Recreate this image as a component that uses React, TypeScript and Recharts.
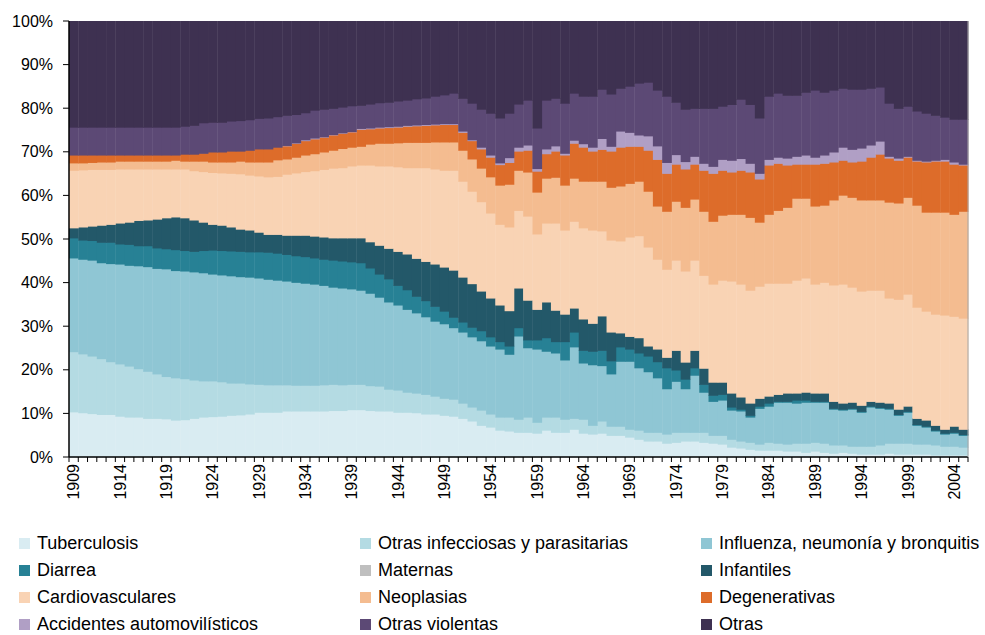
import React from 'react';
import { BarChart, Bar, XAxis, YAxis } from 'recharts';

const years = [
  1909, 1910, 1911, 1912, 1913, 1914, 1915, 1916, 1917, 1918, 1919, 1920, 1921, 1922,
  1923, 1924, 1925, 1926, 1927, 1928, 1929, 1930, 1931, 1932, 1933, 1934, 1935,
  1936, 1937, 1938, 1939, 1940, 1941, 1942, 1943, 1944, 1945, 1946, 1947, 1948, 1949,
  1950, 1951, 1952, 1953, 1954, 1955, 1956, 1957, 1958, 1959, 1960, 1961, 1962,
  1963, 1964, 1965, 1966, 1967, 1968, 1969, 1970, 1971, 1972, 1973, 1974, 1975, 1976,
  1977, 1978, 1979, 1980, 1981, 1982, 1983, 1984, 1985, 1986, 1987, 1988, 1989,
  1990, 1991, 1992, 1993, 1994, 1995, 1996, 1997, 1998, 1999, 2000, 2001, 2002, 2003, 2004, 2005,
];

// porcentajes por año (se leen del gráfico)
const tuberculosis = [
  10.4, 10.2, 10.0, 9.8, 9.8, 9.4, 9.2, 9.2, 8.9, 8.9, 8.8, 8.5, 8.6, 8.9,
  9.2, 9.3, 9.4, 9.6, 9.7, 9.9, 10.3, 10.3, 10.3, 10.6, 10.6, 10.6, 10.6,
  10.6, 10.7, 10.7, 10.9, 10.9, 10.7, 10.6, 10.6, 10.3, 10.3, 10.2, 9.9, 9.9, 9.6,
  9.4, 8.9, 8.3, 7.3, 6.9, 6.2, 6.0, 5.7, 5.7, 5.5, 6.2, 5.7, 5.7,
  6.4, 5.5, 5.3, 5.5, 5.0, 5.0, 4.6, 4.1, 3.7, 3.7, 3.2, 3.4, 3.7, 3.7,
  3.4, 3.2, 3.0, 2.3, 2.1, 1.8, 1.6, 1.6, 1.6, 1.4, 1.4, 1.1, 1.4,
  1.1, 0.9, 1.1, 0.9, 0.7, 0.7, 0.7, 0.9, 0.7, 0.7, 0.7, 0.7, 0.5, 0.5, 0.5, 0.5,
];
const otrasInfecciosas = [
  13.8, 13.5, 13.2, 12.8, 12.1, 12.0, 11.7, 11.1, 10.8, 10.2, 9.7, 9.7, 9.4, 8.8,
  8.3, 8.2, 7.9, 7.4, 7.3, 6.9, 6.4, 6.3, 6.3, 6.0, 5.9, 5.9, 5.9,
  6.0, 6.0, 5.9, 5.8, 5.8, 5.7, 5.7, 5.0, 5.1, 4.6, 4.5, 4.5, 4.1, 3.9,
  3.9, 3.5, 3.2, 3.5, 3.0, 3.0, 3.2, 3.0, 3.5, 2.5, 3.0, 3.5, 3.0,
  2.5, 3.2, 2.0, 2.8, 2.1, 2.1, 1.8, 2.1, 2.0, 2.0, 2.1, 2.3, 2.0, 2.0,
  2.3, 1.8, 2.0, 1.8, 1.6, 1.6, 1.4, 1.8, 1.6, 1.6, 1.8, 2.1, 2.0,
  2.1, 1.9, 1.7, 1.6, 1.8, 1.8, 2.1, 2.3, 2.5, 2.5, 2.3, 2.3, 2.3, 2.0, 2.0, 1.8,
];
const influenza = [
  21.5, 21.7, 22.0, 22.0, 22.5, 22.9, 23.1, 23.6, 24.0, 24.2, 24.7, 24.6, 24.7, 24.8,
  24.8, 24.5, 24.5, 24.6, 24.4, 24.5, 24.4, 24.2, 24.0, 23.8, 23.6, 23.4, 23.2,
  22.8, 22.3, 22.2, 21.9, 21.6, 21.2, 20.4, 20.0, 19.5, 19.0, 18.4, 17.8, 17.2, 17.1,
  16.4, 16.3, 16.1, 15.9, 15.6, 15.6, 14.4, 19.1, 15.9, 16.8, 15.1, 14.7, 13.6,
  16.4, 12.9, 13.9, 12.7, 12.0, 14.9, 15.6, 14.3, 13.9, 12.5, 10.4, 11.7, 10.0, 13.1,
  9.2, 7.8, 8.1, 6.7, 6.9, 5.8, 8.2, 8.3, 9.4, 9.6, 9.2, 9.4, 9.2,
  9.4, 8.2, 8.0, 8.5, 7.8, 9.0, 8.4, 7.8, 6.4, 7.1, 4.3, 3.9, 3.2, 2.8, 3.0, 2.7,
];
const diarrea = [
  4.6, 4.4, 4.5, 4.7, 4.9, 4.6, 4.8, 4.6, 4.8, 4.7, 4.6, 4.8, 4.7, 4.7,
  5.1, 5.5, 5.6, 5.7, 5.8, 5.8, 6.0, 6.2, 6.2, 6.1, 6.1, 6.1, 6.0,
  6.0, 6.2, 6.2, 6.2, 6.3, 5.8, 5.3, 5.3, 4.5, 4.5, 3.8, 3.7, 3.4, 2.9,
  2.4, 2.3, 2.2, 2.3, 2.1, 1.7, 1.9, 1.9, 1.8, 2.1, 3.1, 2.6, 4.2,
  3.4, 2.9, 3.1, 3.5, 3.0, 3.3, 2.8, 3.4, 3.6, 3.7, 4.8, 2.6, 2.2, 1.7,
  1.8, 1.4, 1.3, 0.7, 0.4, 0.4, 0.5, 0.7, 0.2, 0.2, 0.7, 0.5, 0.2,
  0.2, 0.2, 0.2, 0.2, 0.2, 0.2, 0.2, 0.2, 0.2, 0.2, 0.2, 0.2, 0.2, 0.2, 0.2, 0.2,
];
const maternas = [
  0, 0, 0, 0, 0, 0, 0, 0, 0, 0, 0, 0, 0, 0,
  0, 0, 0, 0, 0, 0, 0, 0, 0, 0, 0, 0, 0,
  0, 0, 0, 0, 0, 0, 0, 0, 0, 0, 0, 0, 0, 0,
  0, 0, 0, 0, 0, 0, 0, 0, 0, 0, 0, 0, 0,
  0, 0, 0, 0, 0, 0, 0, 0, 0, 0, 0, 0, 0, 0,
  0, 0, 0, 0, 0, 0, 0, 0, 0, 0, 0, 0, 0,
  0, 0, 0, 0, 0, 0, 0, 0, 0, 0, 0, 0, 0, 0, 0, 0,
];
const infantiles = [
  2.3, 3.0, 3.3, 3.9, 4.1, 4.8, 5.1, 5.8, 5.9, 6.6, 7.1, 7.5, 7.5, 7.2,
  6.5, 5.9, 5.8, 5.5, 5.1, 5.0, 4.5, 4.1, 4.3, 4.4, 4.7, 4.9, 5.0,
  5.1, 5.1, 5.3, 5.5, 5.7, 6.0, 6.6, 7.0, 7.8, 8.2, 8.7, 9.0, 9.7, 10.1,
  10.8, 10.3, 10.0, 9.1, 8.9, 8.4, 8.1, 9.1, 9.1, 7.0, 8.2, 7.2, 6.3,
  5.5, 7.2, 6.4, 7.9, 6.6, 3.2, 2.9, 3.5, 2.3, 2.9, 2.4, 4.5, 3.9, 4.0,
  3.7, 3.0, 2.8, 3.2, 2.8, 2.8, 1.8, 1.6, 1.6, 1.9, 1.6, 1.8, 1.9,
  1.9, 1.6, 1.4, 1.4, 1.4, 1.1, 1.2, 1.2, 1.2, 1.2, 1.4, 1.4, 1.1, 0.9, 1.4, 1.2,
];
const cardiovasculares = [
  13.2, 13.1, 13.0, 12.8, 12.6, 12.4, 12.2, 11.8, 11.7, 11.5, 11.2, 11.0, 11.2, 11.3,
  11.6, 11.9, 12.0, 12.3, 12.7, 12.6, 12.9, 13.2, 13.3, 14.0, 14.3, 14.6, 15.0,
  15.5, 16.0, 16.1, 16.5, 16.7, 17.6, 18.2, 18.9, 19.4, 19.8, 20.8, 21.5, 21.8, 22.2,
  22.9, 22.0, 21.2, 20.5, 19.5, 18.5, 19.2, 17.8, 19.3, 17.3, 18.1, 20.0, 19.3,
  19.9, 20.9, 21.4, 19.5, 21.1, 21.1, 22.8, 23.4, 22.7, 20.6, 20.2, 20.7, 20.9, 20.7,
  21.3, 22.5, 23.4, 25.7, 25.9, 25.9, 25.7, 25.9, 25.5, 25.2, 25.9, 26.2, 25.0,
  25.4, 26.7, 27.3, 26.4, 26.2, 25.5, 25.7, 24.1, 25.2, 25.7, 25.5, 25.0, 25.5, 26.2, 25.2, 25.5,
];
const neoplasias = [
  1.7, 1.6, 1.6, 1.7, 1.7, 1.8, 1.8, 1.8, 1.8, 1.8, 1.8, 2.0, 1.8, 2.2,
  2.4, 2.4, 2.5, 2.6, 2.9, 3.0, 3.2, 3.4, 3.8, 3.5, 3.6, 3.8, 3.9,
  4.0, 4.1, 4.4, 4.3, 4.3, 4.8, 5.2, 5.2, 5.5, 5.8, 5.8, 5.8, 6.2, 6.5,
  6.5, 7.1, 7.4, 7.7, 8.3, 9.0, 9.8, 9.2, 10.1, 9.6, 10.3, 10.5, 10.3,
  9.9, 10.7, 11.2, 11.4, 12.1, 12.6, 12.3, 12.5, 12.8, 12.2, 13.3, 13.5, 14.6, 14.0,
  14.7, 14.4, 14.9, 15.3, 16.0, 16.7, 14.7, 15.8, 16.7, 17.4, 18.8, 18.3, 17.9,
  17.7, 19.5, 20.4, 20.6, 20.9, 20.7, 20.7, 22.0, 22.1, 22.2, 23.4, 22.7, 23.4, 23.6, 23.4, 24.5,
];
const degenerativas = [
  1.8, 1.8, 1.7, 1.6, 1.6, 1.4, 1.4, 1.4, 1.4, 1.4, 1.4, 1.2, 1.6, 1.6,
  1.8, 2.3, 2.3, 2.5, 2.3, 2.7, 3.0, 3.0, 2.9, 3.0, 3.2, 3.3, 3.4,
  3.4, 3.5, 3.5, 3.5, 3.9, 3.5, 3.5, 3.6, 3.6, 3.7, 3.8, 3.9, 3.9, 4.0,
  4.0, 4.1, 4.2, 4.4, 4.5, 4.7, 5.0, 4.4, 5.0, 4.8, 5.6, 6.0, 6.9,
  8.0, 7.8, 6.9, 7.3, 8.3, 8.9, 8.5, 8.0, 9.4, 10.7, 8.7, 8.5, 8.8, 8.0,
  9.4, 11.0, 10.3, 9.7, 10.1, 10.4, 9.9, 11.3, 10.8, 9.7, 7.8, 7.8, 9.6,
  9.6, 8.7, 8.0, 8.1, 8.9, 9.8, 10.5, 10.1, 9.8, 9.2, 10.1, 11.5, 11.7, 11.7, 11.5, 10.6,
];
const accidentes = [
  0, 0, 0, 0, 0, 0, 0, 0, 0, 0, 0, 0, 0, 0,
  0, 0, 0, 0, 0, 0, 0, 0, 0, 0.1, 0.1, 0.2, 0.2,
  0.1, 0.1, 0.1, 0.1, 0.2, 0.2, 0.2, 0.2, 0.2, 0.2, 0.2, 0.2, 0.2, 0.2,
  0.2, 0.3, 0.2, 0.4, 0.5, 0.4, 1.1, 0.9, 1.2, 0.6, 1.1, 1.2, 0.4,
  0.7, 0.8, 0.9, 2.5, 1.1, 3.7, 3.2, 2.6, 3.3, 3.1, 2.5, 2.2, 1.7, 1.8,
  1.6, 1.6, 2.5, 2.7, 2.7, 2.0, 1.3, 1.3, 1.4, 1.6, 1.8, 2.1, 1.6,
  1.9, 2.3, 3.0, 2.9, 3.0, 2.8, 3.0, 0.4, 0.5, 0.2, 0.2, 0.2, 0.2, 0.4, 0.5, 0.2,
];
const otrasViolentas = [
  6.4, 6.4, 6.4, 6.4, 6.4, 6.4, 6.4, 6.4, 6.4, 6.4, 6.4, 6.4, 6.4, 6.6,
  7.0, 6.8, 6.8, 6.9, 7.0, 7.0, 7.0, 7.1, 7.0, 6.9, 6.5, 6.2, 6.4,
  6.3, 6.0, 5.9, 5.9, 5.3, 5.5, 5.6, 5.6, 5.8, 5.8, 6.0, 6.1, 6.4, 6.6,
  7.0, 7.5, 8.4, 8.7, 9.6, 10.3, 10.2, 9.9, 10.3, 9.3, 11.2, 10.9, 11.5,
  10.8, 10.9, 11.7, 11.3, 12.0, 9.8, 10.6, 11.9, 12.3, 12.8, 15.2, 12.0, 12.0, 11.0,
  12.6, 13.3, 12.2, 12.8, 13.6, 13.5, 12.7, 14.5, 14.7, 14.4, 14.0, 14.4, 15.4,
  14.4, 14.2, 13.5, 13.8, 13.5, 13.0, 12.4, 12.2, 11.4, 11.5, 11.3, 11.0, 10.3, 9.7, 9.8, 10.3,
];
const otras = [
  24.3, 24.3, 24.3, 24.3, 24.3, 24.3, 24.3, 24.3, 24.3, 24.3, 24.3, 24.3, 24.1, 23.9,
  23.3, 23.2, 23.2, 22.9, 22.8, 22.6, 22.3, 22.2, 21.9, 21.6, 21.4, 21.0, 20.4,
  20.2, 20.0, 19.7, 19.4, 19.3, 19.0, 18.7, 18.6, 18.3, 18.1, 17.8, 17.6, 17.2, 16.9,
  16.5, 17.7, 18.8, 20.2, 21.1, 22.2, 21.1, 19.0, 18.1, 24.5, 18.1, 17.7, 18.8,
  16.5, 17.2, 17.2, 15.6, 16.7, 15.4, 14.9, 14.2, 14.0, 15.8, 17.2, 18.6, 20.2, 20.0,
  20.0, 20.0, 19.5, 19.1, 17.9, 19.1, 22.2, 17.2, 16.5, 17.0, 17.0, 16.3, 15.8,
  16.3, 15.8, 15.4, 15.6, 15.6, 15.4, 15.1, 18.8, 20.0, 19.5, 20.6, 21.1, 21.6, 22.0, 22.5, 22.5,
];

const yTicks = [0, 0.1, 0.2, 0.3, 0.4, 0.5, 0.6, 0.7, 0.8, 0.9, 1];

const series = [
  { key: 'tuberculosis', name: 'Tuberculosis', color: '#d9ecf2', values: tuberculosis },
  { key: 'otrasInfecciosas', name: 'Otras infecciosas y parasitarias', color: '#b4dbe3', values: otrasInfecciosas },
  { key: 'influenza', name: 'Influenza, neumonía y bronquitis', color: '#8fc6d4', values: influenza },
  { key: 'diarrea', name: 'Diarrea', color: '#278195', values: diarrea },
  { key: 'maternas', name: 'Maternas', color: '#bfbfbf', values: maternas },
  { key: 'infantiles', name: 'Infantiles', color: '#235869', values: infantiles },
  { key: 'cardiovasculares', name: 'Cardiovasculares', color: '#f9d3b4', values: cardiovasculares },
  { key: 'neoplasias', name: 'Neoplasias', color: '#f4bc90', values: neoplasias },
  { key: 'degenerativas', name: 'Degenerativas', color: '#dd6c2a', values: degenerativas },
  { key: 'accidentes', name: 'Accidentes automovilísticos', color: '#b09fc5', values: accidentes },
  { key: 'otrasViolentas', name: 'Otras violentas', color: '#5c4975', values: otrasViolentas },
  { key: 'otras', name: 'Otras', color: '#3e3151', values: otras },
];

const data = years.map((year, i) => {
  const row: Record<string, number> = { year };
  series.forEach(s => { row[s.key] = s.values[i]; });
  return row;
});

const FONT = '"Liberation Sans", Arial, sans-serif';
const CHART_W = 985;
const CHART_H = 520;
const PLOT_LEFT = 69;
const PLOT_RIGHT = 968;
const BAND = (PLOT_RIGHT - PLOT_LEFT) / years.length;

// bars slightly overlap their neighbours so no hairline gaps show
const StepRect = (props: any) => {
  const { x, y, width, height, fill } = props;
  if (!height || height <= 0) return null;
  return <rect x={x} y={y} width={width + 0.7} height={height + 0.7} fill={fill} />;
};

const YearTick = (props: any) => {
  const { x, y, payload, index } = props;
  const left = x - BAND / 2;
  const ty = y + 7;
  return (
    <g>
      <line x1={left} x2={left} y1={y} y2={y + 5} stroke="#000" />
      {index === years.length - 1 && (
        <line x1={x + BAND / 2} x2={x + BAND / 2} y1={y} y2={y + 5} stroke="#000" />
      )}
      {index % 5 === 0 && (
        <text
          x={x}
          y={ty}
          dy="0.36em"
          textAnchor="end"
          transform={`rotate(-90 ${x} ${ty})`}
          fill="#000"
          fontSize={16}
          fontFamily={FONT}
        >
          {payload.value}
        </text>
      )}
    </g>
  );
};

export default function App() {
  return (
    <div style={{ position: 'absolute', left: 0, top: 0, width: 985, height: 635, background: '#fff', fontFamily: FONT }}>
      <BarChart
        width={CHART_W}
        height={CHART_H}
        data={data}
        stackOffset="expand"
        barCategoryGap={0}
        margin={{ top: 21, right: 0, bottom: 0, left: 0 }}
      >
        {series.map(s => (
          <Bar
            key={s.key}
            yAxisId="l"
            dataKey={s.key}
            name={s.name}
            stackId="a"
            fill={s.color}
            shape={<StepRect />}
            isAnimationActive={false}
          />
        ))}
        <XAxis
          dataKey="year"
          interval={0}
          tickLine={false}
          tickSize={0}
          tickMargin={0}
          height={CHART_H - 21 - 436}
          axisLine={{ stroke: '#000', strokeWidth: 1.5 }}
          tick={<YearTick />}
        />
        <YAxis
          yAxisId="l"
          width={PLOT_LEFT}
          domain={[0, 1]}
          ticks={yTicks}
          tickFormatter={(v: number) => `${Math.round(v * 100)}%`}
          tick={{ fill: '#000', fontSize: 16, fontFamily: FONT }}
          tickSize={6}
          tickMargin={10}
          axisLine={{ stroke: '#000', strokeWidth: 1.5 }}
          tickLine={{ stroke: '#000' }}
        />
        <YAxis
          yAxisId="r"
          orientation="right"
          width={CHART_W - PLOT_RIGHT}
          domain={[0, 1]}
          ticks={yTicks}
          tick={false}
          tickSize={8}
          axisLine={{ stroke: '#a6a6a6' }}
          tickLine={{ stroke: '#a6a6a6' }}
        />
      </BarChart>

      {series.map((s, i) => {
        const col = i % 3;
        const row = Math.floor(i / 3);
        return (
          <div
            key={s.key}
            style={{
              position: 'absolute',
              left: 19 + col * 341,
              top: 530 + row * 27.3,
              height: 26,
              display: 'flex',
              alignItems: 'center',
              fontSize: 18,
              color: '#000',
              whiteSpace: 'nowrap',
            }}
          >
            <span style={{ display: 'inline-block', width: 11, height: 11, background: s.color, marginRight: 7 }} />
            {s.name}
          </div>
        );
      })}
    </div>
  );
}
